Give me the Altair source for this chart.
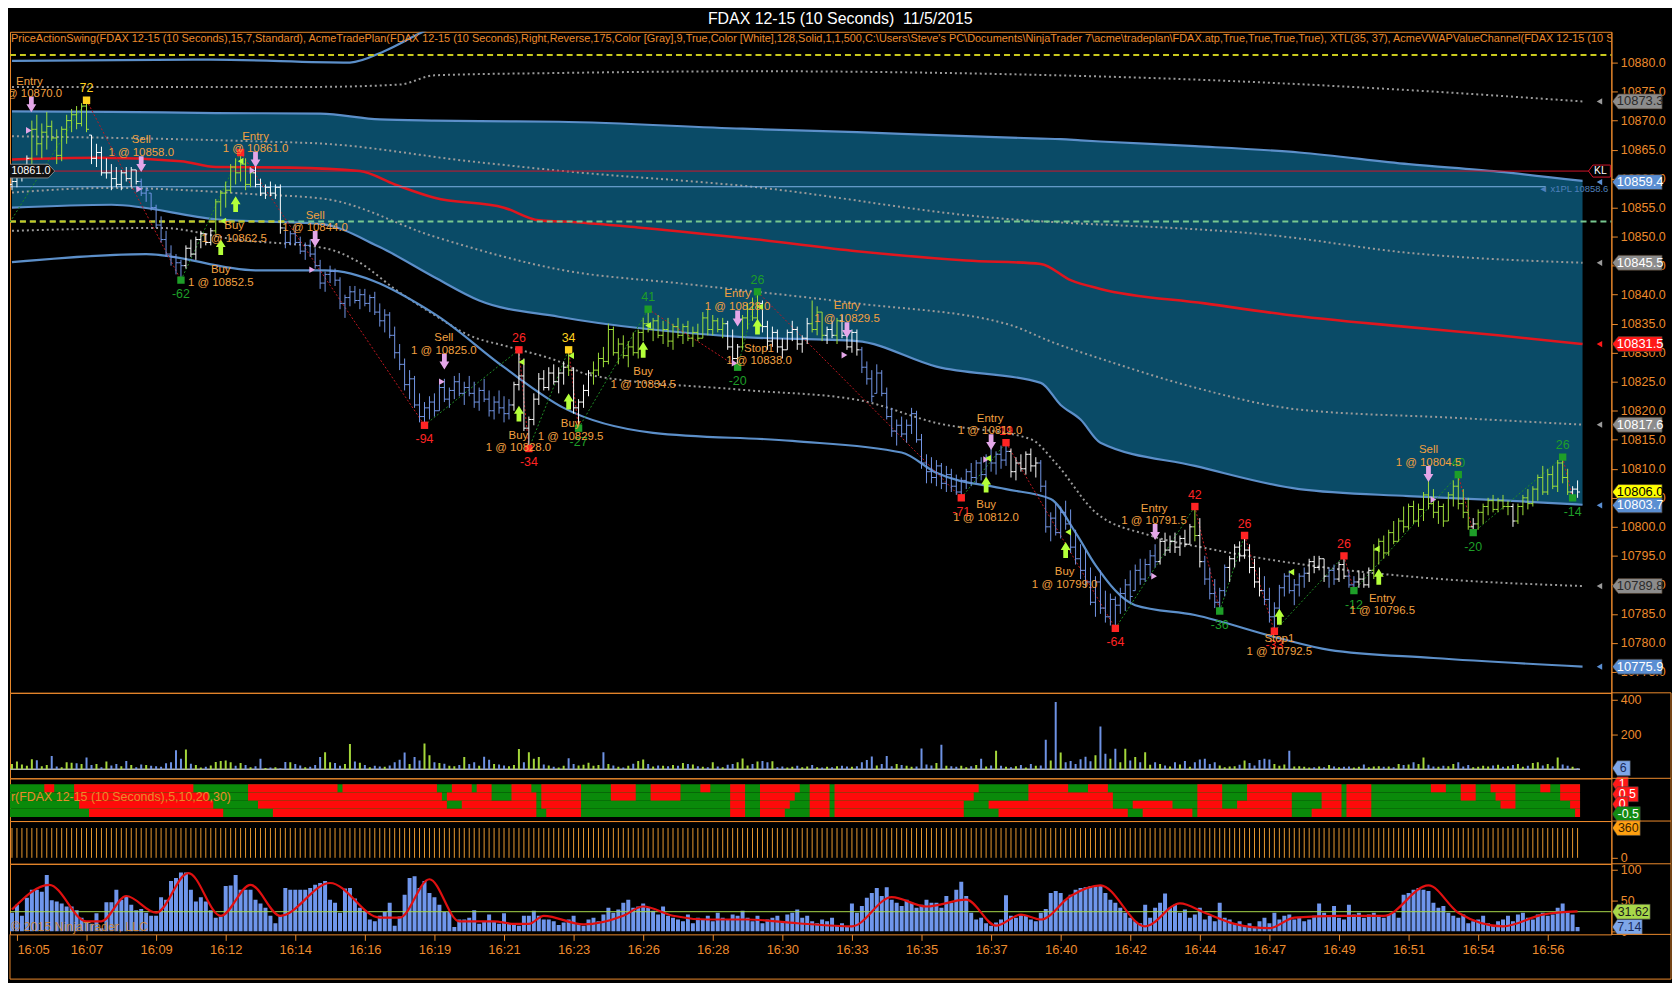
import json
import altair as alt
import pandas as pd

# ---------------------------------------------------------------- data
TITLE = "FDAX 12-15 (10 Seconds)\u00a0 11/5/2015"
INDICATORS = ("PriceActionSwing(FDAX 12-15 (10 Seconds),15,7,Standard), AcmeTradePlan(FDAX 12-15 (10 Seconds),"
              "Right,Reverse,175,Color [Gray],9,True,Color [White],128,Solid,1,1,500,C:\\Users\\Steve's PC\\Documents\\"
              "NinjaTrader 7\\acme\\tradeplan\\FDAX.atp,True,True,True,True), XTL(35, 37), "
              "AcmeVWAPValueChannel(FDAX 12-15 (10 Seconds))")
HEAT_NAME = "r(FDAX 12-15 (10 Seconds),5,10,20,30)"
COPYRIGHT = "\u00a9 2015 NinjaTrader, LLC"

OPEN0 = 10859.0
HIGH = [
    10860.5, 10861.0, 10862.0, 10864.0, 10870.0, 10871.0, 10869.5, 10871.5, 10870.0, 10868.5,
    10869.0, 10871.0, 10872.0, 10872.5, 10873.0, 10873.5, 10867.5, 10866.0, 10865.5, 10863.5,
    10862.5, 10862.0, 10861.5, 10862.0, 10862.0, 10861.5, 10860.0, 10858.5, 10857.5, 10855.5,
    10853.5, 10851.0, 10848.5, 10847.0, 10846.0, 10848.5, 10849.5, 10850.0, 10851.0, 10850.5,
    10851.5, 10856.5, 10858.0, 10859.5, 10862.5, 10863.5, 10864.5, 10863.5, 10862.0, 10862.0,
    10860.0, 10859.0, 10859.5, 10859.0, 10859.0, 10851.5, 10851.0, 10852.0, 10850.0, 10849.0,
    10849.5, 10848.0, 10846.0, 10844.0, 10845.0, 10844.5, 10843.0, 10840.0, 10841.5, 10841.5,
    10841.0, 10841.0, 10840.0, 10840.5, 10838.5, 10837.5, 10837.0, 10834.5, 10831.5, 10829.0,
    10827.0, 10826.0, 10823.0, 10821.5, 10822.5, 10823.0, 10824.5, 10825.5, 10824.0, 10826.0,
    10826.5, 10825.0, 10826.0, 10825.0, 10824.0, 10825.5, 10823.5, 10822.5, 10823.5, 10822.5,
    10822.0, 10825.0, 10830.5, 10829.0, 10819.0, 10823.0, 10826.5, 10827.0, 10827.5, 10828.0,
    10827.5, 10828.5, 10830.5, 10827.5, 10822.0, 10824.5, 10827.0, 10828.5, 10830.0, 10831.0,
    10835.0, 10834.5, 10832.5, 10833.0, 10832.0, 10833.5, 10834.0, 10836.0, 10837.5, 10836.0,
    10836.5, 10835.5, 10836.0, 10835.0, 10836.0, 10835.0, 10835.5, 10834.5, 10835.0, 10837.0,
    10837.5, 10836.5, 10836.0, 10836.0, 10835.5, 10834.0, 10831.5, 10836.5, 10838.5, 10839.5,
    10840.5, 10839.0, 10835.5, 10834.5, 10834.0, 10832.5, 10834.0, 10835.5, 10834.5, 10833.0,
    10836.0, 10839.0, 10838.0, 10837.0, 10834.5, 10835.5, 10836.0, 10836.5, 10834.0, 10834.0,
    10834.0, 10831.0, 10828.5, 10827.0, 10828.0, 10827.0, 10824.0, 10820.5, 10818.5, 10819.0,
    10818.5, 10820.5, 10820.0, 10816.0, 10812.5, 10812.0, 10811.5, 10811.0, 10810.5, 10810.0,
    10809.0, 10808.5, 10810.0, 10811.0, 10811.5, 10812.0, 10812.5, 10813.5, 10813.0, 10814.0,
    10814.5, 10813.5, 10812.0, 10812.5, 10813.0, 10813.5, 10812.0, 10811.5, 10808.0, 10802.5,
    10804.0, 10803.5, 10804.5, 10803.0, 10799.5, 10797.0, 10796.0, 10793.0, 10791.5, 10792.5,
    10789.0, 10788.5, 10788.0, 10789.5, 10791.0, 10792.5, 10793.5, 10794.5, 10794.5, 10796.0,
    10797.0, 10798.0, 10799.0, 10798.5, 10799.0, 10798.5, 10799.5, 10800.5, 10803.5, 10801.5,
    10795.0, 10793.0, 10791.0, 10789.5, 10793.5, 10795.0, 10797.0, 10797.5, 10798.5, 10797.0,
    10794.5, 10793.0, 10791.5, 10789.5, 10787.0, 10790.0, 10792.0, 10792.5, 10791.0, 10792.0,
    10793.0, 10794.5, 10795.0, 10795.0, 10794.5, 10793.0, 10793.5, 10794.0, 10795.0, 10792.5,
    10791.5, 10792.5, 10792.0, 10793.0, 10797.0, 10798.0, 10798.5, 10799.5, 10801.0, 10801.5,
    10803.5, 10804.0, 10804.5, 10804.0, 10806.0, 10808.0, 10806.5, 10804.5, 10804.0, 10806.0,
    10808.0, 10809.0, 10806.5, 10805.0, 10801.5, 10803.0, 10804.0, 10805.0, 10805.5, 10805.0,
    10805.5, 10804.5, 10804.0, 10804.0, 10805.5, 10806.5, 10807.0, 10809.0, 10810.5, 10810.0,
    10810.5, 10811.5, 10812.0, 10810.0, 10807.0, 10808.0]
LOW = [
    10858.0, 10858.5, 10859.5, 10860.5, 10862.0, 10864.0, 10863.5, 10865.0, 10866.5, 10862.5,
    10863.0, 10866.0, 10868.0, 10868.5, 10869.0, 10868.0, 10862.5, 10862.0, 10860.5, 10860.0,
    10858.0, 10858.5, 10858.0, 10859.5, 10858.5, 10859.0, 10857.0, 10856.0, 10854.5, 10851.5,
    10849.0, 10846.5, 10845.0, 10843.5, 10842.5, 10844.5, 10846.5, 10846.0, 10848.0, 10848.5,
    10848.5, 10850.5, 10853.5, 10855.0, 10857.5, 10859.0, 10859.5, 10858.0, 10858.5, 10858.5,
    10857.0, 10856.5, 10857.0, 10856.5, 10850.5, 10848.0, 10848.5, 10848.5, 10847.0, 10846.0,
    10846.5, 10844.5, 10841.0, 10840.5, 10842.0, 10841.5, 10837.5, 10836.0, 10838.0, 10838.5,
    10837.5, 10838.0, 10837.0, 10836.5, 10834.5, 10833.5, 10832.5, 10829.0, 10827.0, 10823.5,
    10822.0, 10820.5, 10818.0, 10817.5, 10818.5, 10819.0, 10820.0, 10821.5, 10820.5, 10822.0,
    10822.5, 10821.0, 10822.5, 10820.5, 10820.0, 10821.5, 10819.0, 10818.5, 10819.5, 10818.0,
    10818.5, 10820.0, 10823.5, 10816.5, 10813.5, 10817.5, 10821.0, 10823.5, 10823.5, 10824.5,
    10823.0, 10824.5, 10826.0, 10819.5, 10817.0, 10820.5, 10822.5, 10824.5, 10826.0, 10827.5,
    10828.0, 10829.5, 10828.0, 10829.0, 10827.5, 10829.5, 10829.0, 10832.0, 10833.5, 10832.0,
    10832.5, 10831.5, 10831.0, 10830.5, 10832.5, 10831.5, 10832.0, 10831.0, 10832.0, 10832.5,
    10833.0, 10833.0, 10833.5, 10832.5, 10830.5, 10828.0, 10827.5, 10830.5, 10834.0, 10835.5,
    10835.5, 10833.5, 10830.5, 10831.0, 10830.0, 10829.0, 10830.5, 10832.0, 10830.5, 10830.0,
    10831.5, 10833.5, 10833.0, 10832.0, 10831.5, 10832.5, 10831.5, 10832.5, 10830.5, 10830.0,
    10829.5, 10826.5, 10824.5, 10821.5, 10823.0, 10822.5, 10818.5, 10815.5, 10814.0, 10815.5,
    10814.5, 10816.0, 10814.5, 10810.0, 10807.5, 10807.5, 10807.0, 10806.5, 10806.0, 10806.0,
    10805.5, 10805.0, 10806.5, 10807.0, 10807.5, 10808.0, 10808.5, 10809.5, 10809.0, 10810.0,
    10810.5, 10808.5, 10808.0, 10809.5, 10809.0, 10809.5, 10808.5, 10806.0, 10799.0, 10797.5,
    10798.5, 10798.0, 10799.5, 10795.5, 10793.5, 10791.0, 10789.5, 10786.5, 10784.5, 10785.0,
    10783.5, 10783.0, 10782.5, 10785.0, 10785.5, 10787.0, 10789.0, 10790.0, 10790.5, 10791.5,
    10793.0, 10793.5, 10795.0, 10795.5, 10795.5, 10795.0, 10796.5, 10797.0, 10797.5, 10793.0,
    10790.0, 10787.5, 10786.0, 10785.5, 10788.0, 10790.5, 10793.0, 10794.0, 10794.5, 10792.0,
    10789.5, 10788.0, 10786.5, 10783.5, 10782.0, 10785.0, 10788.0, 10788.5, 10786.5, 10788.0,
    10789.5, 10790.5, 10792.0, 10792.5, 10790.5, 10789.5, 10790.0, 10790.5, 10791.0, 10789.5,
    10789.0, 10789.5, 10789.5, 10789.5, 10791.0, 10793.5, 10794.5, 10795.0, 10797.0, 10797.5,
    10799.0, 10799.5, 10800.5, 10800.0, 10801.0, 10803.0, 10801.5, 10800.5, 10800.0, 10801.0,
    10803.5, 10803.0, 10801.5, 10799.5, 10799.0, 10799.5, 10800.5, 10802.0, 10802.5, 10802.5,
    10803.0, 10802.0, 10800.0, 10800.5, 10802.0, 10803.0, 10803.5, 10804.5, 10805.5, 10805.5,
    10806.5, 10806.0, 10807.5, 10805.5, 10805.0, 10805.0]
CLOSE = [
    10859.5, 10860.5, 10861.5, 10863.5, 10868.5, 10866.0, 10868.0, 10869.0, 10867.0, 10864.0,
    10868.5, 10870.0, 10871.0, 10869.5, 10872.5, 10868.5, 10863.5, 10864.5, 10861.0, 10861.0,
    10860.0, 10859.0, 10861.0, 10860.0, 10861.5, 10859.5, 10857.5, 10858.0, 10855.0, 10852.0,
    10849.5, 10847.0, 10846.5, 10845.5, 10845.0, 10848.0, 10847.0, 10849.5, 10850.5, 10849.0,
    10851.0, 10856.0, 10857.5, 10858.0, 10862.0, 10861.0, 10862.5, 10859.0, 10861.0, 10859.0,
    10857.5, 10858.5, 10857.5, 10858.5, 10851.5, 10849.0, 10850.5, 10849.0, 10847.5, 10848.5,
    10847.0, 10845.0, 10842.0, 10843.5, 10844.0, 10842.5, 10838.5, 10839.5, 10840.5, 10839.0,
    10840.0, 10838.5, 10839.5, 10837.0, 10835.5, 10836.5, 10833.0, 10830.0, 10828.0, 10824.5,
    10825.5, 10821.0, 10819.0, 10820.5, 10821.5, 10820.0, 10824.0, 10822.0, 10823.5, 10825.0,
    10823.0, 10824.0, 10823.0, 10821.5, 10823.5, 10822.0, 10820.0, 10821.5, 10820.5, 10819.5,
    10821.0, 10824.5, 10826.0, 10817.0, 10818.5, 10822.0, 10825.5, 10824.0, 10826.5, 10825.0,
    10826.5, 10827.5, 10827.0, 10820.5, 10821.5, 10823.5, 10826.5, 10827.0, 10829.0, 10828.5,
    10834.0, 10830.0, 10831.5, 10829.5, 10831.0, 10830.0, 10833.5, 10835.0, 10834.0, 10835.5,
    10833.0, 10834.0, 10832.0, 10834.5, 10833.0, 10834.5, 10832.5, 10833.5, 10832.5, 10836.0,
    10834.0, 10835.5, 10834.0, 10835.0, 10831.0, 10829.0, 10831.0, 10836.0, 10837.5, 10836.0,
    10838.5, 10834.5, 10832.0, 10833.5, 10831.0, 10830.5, 10833.5, 10834.0, 10831.5, 10832.5,
    10835.0, 10834.0, 10837.0, 10833.0, 10834.0, 10833.0, 10835.5, 10833.0, 10831.0, 10833.5,
    10830.5, 10827.5, 10825.5, 10822.5, 10826.5, 10823.0, 10819.0, 10816.5, 10817.5, 10816.0,
    10817.5, 10819.5, 10815.0, 10811.0, 10809.5, 10808.5, 10810.5, 10807.5, 10809.0, 10807.0,
    10806.0, 10808.0, 10809.5, 10808.5, 10811.0, 10809.0, 10812.0, 10811.0, 10812.5, 10811.5,
    10813.0, 10809.5, 10811.0, 10810.0, 10812.5, 10810.5, 10811.0, 10807.0, 10800.0, 10801.5,
    10799.0, 10802.5, 10800.5, 10796.5, 10794.5, 10792.5, 10790.5, 10787.0, 10790.5, 10786.0,
    10784.5, 10787.5, 10786.5, 10788.5, 10790.0, 10788.0, 10792.5, 10791.0, 10793.5, 10795.0,
    10794.0, 10797.5, 10796.0, 10797.5, 10796.5, 10798.0, 10797.0, 10800.0, 10798.5, 10794.0,
    10791.0, 10788.5, 10787.0, 10789.0, 10793.0, 10794.5, 10796.5, 10795.0, 10796.0, 10793.0,
    10790.5, 10789.0, 10787.5, 10784.5, 10786.0, 10789.5, 10791.5, 10789.0, 10790.0, 10791.5,
    10792.0, 10794.0, 10793.0, 10794.5, 10791.5, 10792.5, 10791.0, 10793.5, 10791.5, 10790.0,
    10790.5, 10791.0, 10790.0, 10792.5, 10796.0, 10797.5, 10795.5, 10799.0, 10797.5, 10801.0,
    10800.0, 10803.5, 10801.0, 10803.0, 10805.5, 10804.0, 10802.5, 10803.5, 10801.0, 10805.5,
    10807.0, 10804.0, 10802.5, 10800.0, 10800.5, 10802.5, 10803.5, 10804.5, 10803.0, 10804.5,
    10803.5, 10803.5, 10801.0, 10803.5, 10805.0, 10804.0, 10806.5, 10808.5, 10806.0, 10809.0,
    10807.0, 10811.0, 10808.5, 10806.0, 10806.5, 10806.0]
# bar colour runs: (first bar, last bar, code)  w = white, g = green, b = blue
COLOR_RUNS = [(0, 3, "w"), (4, 15, "g"), (16, 25, "w"), (26, 34, "b"), (35, 40, "w"), (41, 48, "g"),
              (49, 54, "w"), (55, 100, "b"), (101, 111, "w"), (112, 112, "g"), (113, 116, "w"),
              (117, 143, "g"), (144, 146, "w"), (147, 150, "g"), (151, 160, "w"), (161, 163, "g"),
              (164, 165, "w"), (166, 166, "g"), (167, 170, "w"), (171, 200, "b"), (201, 206, "w"),
              (207, 230, "b"), (231, 237, "w"), (238, 238, "g"), (239, 239, "w"), (240, 244, "b"),
              (245, 251, "w"), (252, 260, "b"), (261, 264, "w"), (265, 266, "b"), (267, 268, "w"),
              (269, 270, "b"), (271, 273, "w"), (274, 293, "g"), (294, 294, "w"), (295, 301, "g"),
              (302, 302, "w"), (303, 313, "g"), (314, 315, "w")]

VOLUME = [
    30, 44, 28, 20, 58, 52, 18, 24, 77, 16, 12, 40, 38, 35, 30, 68, 24, 30, 12, 45,
    22, 30, 18, 48, 25, 12, 28, 24, 20, 18, 14, 35, 40, 110, 60, 114, 32, 25, 10, 14,
    22, 42, 48, 50, 40, 20, 36, 24, 12, 18, 60, 8, 10, 12, 6, 42, 40, 30, 22, 12,
    15, 24, 70, 98, 40, 36, 20, 30, 145, 44, 38, 24, 12, 20, 16, 14, 22, 40, 55, 96,
    30, 70, 50, 149, 80, 40, 36, 32, 20, 18, 25, 70, 30, 40, 20, 72, 55, 30, 28, 22,
    18, 24, 116, 40, 98, 60, 70, 28, 22, 14, 10, 20, 64, 30, 22, 26, 38, 20, 24, 98,
    30, 22, 14, 10, 20, 32, 48, 56, 30, 16, 22, 20, 18, 24, 20, 36, 30, 28, 18, 14,
    12, 40, 16, 12, 26, 30, 40, 62, 22, 30, 44, 48, 40, 46, 12, 16, 10, 14, 20, 12,
    16, 24, 12, 10, 14, 12, 18, 20, 16, 14, 18, 40, 54, 73, 22, 30, 77, 18, 30, 24,
    20, 14, 16, 120, 28, 22, 36, 141, 20, 18, 14, 20, 12, 18, 24, 60, 16, 22, 107, 20,
    14, 12, 18, 24, 10, 30, 20, 22, 170, 50, 387, 96, 40, 48, 30, 58, 72, 46, 80, 246,
    90, 60, 118, 40, 118, 50, 70, 40, 98, 26, 40, 30, 22, 16, 40, 28, 48, 14, 40, 56,
    60, 30, 40, 22, 12, 16, 18, 26, 50, 36, 22, 54, 60, 56, 30, 20, 28, 107, 16, 18,
    14, 10, 12, 16, 12, 24, 16, 12, 14, 16, 10, 14, 28, 12, 16, 18, 14, 16, 12, 30,
    24, 28, 40, 30, 67, 26, 16, 14, 20, 18, 30, 40, 16, 24, 12, 14, 20, 16, 22, 26,
    14, 18, 24, 30, 14, 20, 36, 40, 22, 30, 18, 67, 28, 20, 14, 6]

HIST = [
    30, 43, 25, 54, 67, 67, 64, 91, 50, 48, 45, 40, 40, 34, 22, 16, 12, 29, 5, 47,
    47, 67, 51, 57, 43, 34, 36, 30, 25, 25, 55, 51, 81, 86, 95, 95, 67, 48, 55, 48,
    34, 22, 24, 73, 74, 91, 67, 67, 67, 51, 45, 38, 25, 13, 25, 70, 67, 67, 67, 67,
    70, 75, 78, 81, 51, 46, 30, 69, 70, 53, 38, 33, 19, 16, 25, 31, 46, 9, 24, 59,
    86, 89, 70, 81, 62, 55, 43, 31, 31, 7, 19, 19, 22, 34, 12, 16, 27, 16, 12, 29,
    12, 13, 9, 25, 25, 33, 25, 19, 19, 16, 10, 14, 19, 25, 13, 9, 19, 22, 16, 27,
    38, 30, 35, 46, 51, 38, 40, 45, 38, 33, 27, 40, 25, 22, 19, 16, 27, 13, 22, 19,
    25, 16, 30, 22, 19, 27, 25, 33, 22, 16, 25, 13, 19, 22, 25, 16, 27, 30, 35, 22,
    25, 16, 13, 19, 16, 22, 9, 13, 7, 45, 30, 41, 54, 62, 70, 57, 71, 51, 46, 41,
    51, 46, 38, 43, 51, 46, 46, 38, 57, 46, 67, 80, 57, 30, 19, 22, 13, 9, 14, 19,
    58, 25, 22, 27, 25, 19, 16, 30, 36, 62, 65, 62, 51, 59, 67, 70, 71, 73, 73, 73,
    62, 51, 46, 38, 30, 22, 16, 13, 43, 22, 38, 46, 61, 38, 43, 30, 35, 22, 27, 38,
    19, 25, 16, 46, 22, 19, 13, 16, 9, 13, 7, 16, 22, 13, 30, 19, 25, 27, 19, 22,
    16, 19, 25, 45, 30, 25, 41, 22, 19, 43, 27, 30, 22, 27, 30, 25, 22, 27, 30, 22,
    59, 62, 67, 70, 67, 65, 46, 38, 41, 30, 25, 22, 27, 13, 16, 19, 25, 13, 9, 16,
    19, 25, 16, 27, 30, 22, 19, 27, 30, 25, 27, 38, 45, 30, 27, 7]
HAVG_IDX = [0, 7.5, 15, 18, 23, 29, 35.5, 42, 48, 54, 64, 74, 78, 84, 90, 97, 101, 104, 107, 115, 123,
            127, 133, 140, 148, 158, 169, 177, 184, 192, 198, 203, 207, 213, 219, 228, 235, 240, 246,
            253, 258, 267, 276, 285, 291, 300, 308, 315]
HAVG_VAL = [35, 75, 16, 16, 57, 30, 94, 25, 75, 25, 78, 22, 22, 84, 16, 16, 12, 12, 25, 11, 25,
            40, 25, 19, 19, 13, 8, 55, 40, 51, 9, 27, 19, 57, 74, 8, 45, 30, 12,
            5, 22, 25, 25, 74, 30, 8, 27, 32]
HIST_LEVEL = 31.62
TICK_VALUE = 360

# red cells of the four-row trend heat map (first bar, last bar), all other cells green
HEAT_RED = [
    [(7, 8), (13, 36), (48, 65), (67, 85), (89, 92), (94, 96), (101, 104), (107, 114), (121, 125),
     (129, 134), (139, 140), (145, 147), (151, 158), (161, 164), (166, 194), (205, 212), (217, 220),
     (239, 243), (249, 267), (269, 273), (286, 288), (292, 294), (298, 302), (308, 309), (312, 315)],
    [(13, 39), (48, 86), (88, 96), (101, 105), (107, 114), (121, 125), (129, 134), (145, 147),
     (151, 157), (161, 164), (166, 193), (205, 221), (239, 243), (249, 257), (264, 267), (269, 273),
     (292, 294), (299, 302), (312, 315)],
    [(14, 40), (50, 87), (91, 105), (107, 114), (145, 147), (151, 156), (161, 164), (166, 191),
     (197, 221), (226, 233), (239, 243), (247, 257), (264, 267), (269, 273), (300, 302), (314, 315)],
    [(16, 42), (53, 105), (108, 114), (145, 147), (151, 155), (161, 164), (166, 191), (199, 224),
     (228, 237), (239, 257), (262, 267), (269, 273), (315, 315)]]
HEAT_ROW_TOP = [1.0, 0.5875, 0.175, -0.2375]
HEAT_ROW_BOT = [0.5875, 0.175, -0.2375, -0.65]

# value channel bands (bar index, price)
TOP_IDX = [0, 40, 68, 75, 82, 90]
TOP_VAL = [10880.3, 10880.5, 10880.0, 10882.0, 10885.0, 10888.0]
BAND_IDX = [0, 20, 41, 62, 74, 85, 94, 110, 147, 170, 186, 207, 211, 215, 219, 238, 259, 281, 299, 316]
U1_VAL = [10871.6, 10871.5, 10871.3, 10871.2, 10870.2, 10870.0, 10869.9, 10869.8, 10868.6, 10868.0,
          10867.5, 10866.9, 10866.8, 10866.6, 10866.4, 10865.6, 10864.5, 10862.5, 10861.2, 10859.6]
L1_VAL = [10855.0, 10855.5, 10853.0, 10852.2, 10848.2, 10843.0, 10839.0, 10836.2, 10832.7, 10832.0,
          10827.6, 10824.8, 10821.0, 10818.5, 10814.5, 10810.5, 10806.5, 10805.3, 10804.6, 10803.8]
L2_IDX = [0, 27, 49, 63, 85, 99, 111, 129, 157, 179, 186, 200, 209, 214, 218, 226, 238, 255, 265, 286, 316]
L2_VAL = [10845.6, 10847.0, 10844.2, 10844.2, 10836.7, 10827.5, 10820.5, 10816.2, 10814.8, 10812.8,
          10809.3, 10806.5, 10804.8, 10799.0, 10793.4, 10786.5, 10784.8, 10780.8, 10778.8, 10777.4, 10775.9]
DOTA_IDX = [0, 60, 78, 85, 110, 150, 200, 240, 280, 316]
DOTA_VAL = [10875.8, 10875.8, 10876.2, 10877.8, 10878.2, 10878.5, 10878.0, 10877.0, 10875.3, 10873.3]
DOTB_IDX = [0, 50, 63, 92, 111, 150, 192, 256, 280, 316]
DOTB_VAL = [10867.3, 10866.4, 10866.0, 10863.0, 10861.3, 10858.5, 10853.7, 10850.0, 10847.3, 10845.5]
DOTC_IDX = [0, 20, 49, 63, 85, 111, 135, 170, 200, 210, 220, 238, 259, 290, 316]
DOTC_VAL = [10857.6, 10858.4, 10857.3, 10856.5, 10850.0, 10844.2, 10841.9, 10838.5, 10835.0, 10831.6,
            10828.7, 10824.0, 10820.2, 10818.8, 10817.6]
DOTD_IDX = [0, 30, 45, 63, 70, 77, 85, 92, 100, 110, 116, 147, 170, 186, 205, 210, 218, 229, 241, 266, 286, 316]
DOTD_VAL = [10851.0, 10851.5, 10849.5, 10848.0, 10845.5, 10841.0, 10836.5, 10833.0, 10831.0, 10828.5,
            10826.2, 10823.6, 10821.9, 10817.9, 10815.1, 10811.0, 10802.5, 10798.5, 10796.2, 10792.8,
            10791.1, 10789.8]
VWAP_IDX = [0, 17, 34, 41, 56, 70, 77, 85, 99, 106, 111, 127, 150, 170, 192, 207, 213, 219, 240, 256, 280, 299, 316]
VWAP_VAL = [10863.3, 10863.6, 10863.0, 10862.0, 10861.9, 10861.3, 10859.0, 10856.7, 10855.0, 10852.8,
            10852.6, 10851.5, 10849.5, 10847.5, 10845.9, 10845.3, 10842.5, 10841.0, 10838.5, 10836.6,
            10834.5, 10833.0, 10831.5]
KL_PRICE = 10861.3
PL_PRICE = 10858.6
YELLOW_LEVEL = 10881.3
GREEN_LEVEL = 10852.6

# swing points of PriceActionSwing
SW_IDX = [-0.4, 15, 34, 46, 83, 102, 104, 112, 114, 128, 146, 150, 191, 200, 222, 238, 243, 248, 254,
          268, 270, 291, 294, 312, 314]
SW_PRICE = [10852.5, 10873.5, 10842.5, 10864.5, 10817.5, 10830.5, 10813.5, 10830.5, 10817.0, 10837.5,
            10827.5, 10840.5, 10805.0, 10814.5, 10782.5, 10803.5, 10785.5, 10798.5, 10782.0, 10795.0,
            10789.0, 10809.0, 10799.0, 10812.0, 10805.0]
SW_LABEL = ["", "72", "-62", "", "-94", "26", "-34", "34", "-27", "41", "-20", "26", "-71", "19", "-64",
            "42", "-36", "26", "-33", "26", "-12", "40", "-20", "26", "-14"]
SW_KIND = ["none", "yellow", "green", "red", "red", "red", "red", "yellow", "green", "green", "green",
           "green", "red", "red", "red", "red", "green", "red", "red", "red", "green", "green", "green",
           "green", "green"]

# trade plan annotations
ANN_IDX = [3.5, 26, 49, 44.7, 61, 42, 86.9, 101.9, 112.4, 127, 146, 150.3, 168, 196.8, 196, 211.8,
           229.8, 255, 275.7, 285]
ANN_PRICE = [10876.7, 10866.6, 10867.2, 10851.8, 10853.6, 10844.2, 10832.5, 10815.7, 10817.7, 10826.6,
             10840.1, 10830.7, 10838.0, 10818.6, 10803.7, 10792.2, 10803.1, 10780.6, 10787.6, 10813.2]
ANN_WORD = ["Entry", "Sell", "Entry", "Buy", "Sell", "Buy", "Sell", "Buy", "Buy", "Buy", "Entry", "Stop1",
            "Entry", "Entry", "Buy", "Buy", "Entry", "Stop1", "Entry", "Sell"]
ANN_FILL = ["1 @ 10870.0", "1 @ 10858.0", "1 @ 10861.0", "1 @ 10862.5", "1 @ 10844.0", "1 @ 10852.5",
            "1 @ 10825.0", "1 @ 10828.0", "1 @ 10829.5", "1 @ 10834.5", "1 @ 10828.0", "1 @ 10838.0",
            "1 @ 10829.5", "1 @ 10811.0", "1 @ 10812.0", "1 @ 10799.0", "1 @ 10791.5", "1 @ 10792.5",
            "1 @ 10796.5", "1 @ 10804.5"]
DOWN_IDX = [3.9, 26, 49, 61, 87, 146, 168, 197, 230, 285]
DOWN_PRICE = [10872.8, 10862.5, 10863.3, 10849.6, 10828.5, 10835.9, 10833.9, 10814.6, 10799.1, 10809.1]
UP_IDX = [42, 45, 102, 112, 127, 150, 196, 212, 255, 275]
UP_PRICE = [10848.2, 10855.6, 10819.5, 10821.6, 10830.5, 10834.5, 10807.3, 10796.0, 10784.5, 10791.4]
PINK_TRI_IDX = [3.4, 25.6, 48.4, 60.4, 86.5, 145.4, 167.5, 196, 229.8, 286]
PINK_TRI_PRICE = [10868.3, 10858.2, 10861.4, 10844.3, 10825.0, 10828.2, 10829.6, 10811.6, 10791.5, 10804.7]
LIME_TRI_IDX = [46, 42.5, 102.5, 112.5, 128, 150.5, 196.4, 212.5, 257.4, 274.6]
LIME_TRI_PRICE = [10863.0, 10852.7, 10828.4, 10829.5, 10834.7, 10837.9, 10811.8, 10799.1, 10792.2, 10796.2]

# right-axis value tags
TAG_PRICE = [10873.3, 10859.4, 10845.5, 10831.5, 10817.6, 10806.0, 10803.7, 10789.8, 10775.9]
TAG_KIND = ["gray_dark", "blue", "gray", "red", "gray", "yellow", "blue", "gray_dark", "blue"]

PRICE_TICKS = [10775, 10780, 10785, 10790, 10795, 10800, 10805, 10810, 10815, 10820, 10825, 10830,
               10835, 10840, 10845, 10850, 10855, 10860, 10865, 10870, 10875, 10880]
X_POS = [1, 15, 29, 43, 57, 71, 85, 99, 113, 127, 141, 155, 169, 183, 197, 211, 225, 239, 253, 267, 281, 295, 309]
X_LABELS = ["16:05", "16:07", "16:09", "16:12", "16:14", "16:16", "16:19", "16:21", "16:23", "16:26",
            "16:28", "16:30", "16:33", "16:35", "16:37", "16:40", "16:42", "16:44", "16:47", "16:49",
            "16:51", "16:54", "16:56"]

# ---------------------------------------------------------------- style
W = 1611
H_MAIN, H_VOL, H_HEAT, H_TICK, H_HIST = 665, 86, 43, 43, 71
XDOM = [-0.4, 321.8]
ORANGE = "#EC8A2C"
TEXT_OR = "#F2A040"
FONT = "Liberation Sans, Arial, Helvetica, sans-serif"
TEAL = "#0A4B67"
BAND = "#5C8FC9"
DOTTED = "#9A9A9A"
BAR_COL = {"w": "#FFFFFF", "g": "#9FE03A", "b": "#7396E6"}
VOL_UP, VOL_DN = "#A4D63A", "#6E92E4"
HEAT_COL = {"r": "#FF0A0A", "g": "#0A8A0A"}
SW_COL = {"yellow": "#FFD21E", "green": "#1E9E28", "red": "#FF2424", "none": "#000000"}
TAG_STYLE = {"gray_dark": ("#8C8C8C", "#2A2A2A", "#9A9A9A"), "gray": ("#8C8C8C", "#FFFFFF", "#9A9A9A"),
             "blue": ("#5A8ED2", "#FFFFFF", "#5A8ED2"), "red": ("#FF1818", "#FFFFFF", "#FF1818"),
             "yellow": ("#FFFF00", "#000000", "#FFFF00")}
TAG_PATH = "M-1,0 L-0.76,-0.3 L1,-0.3 L1,0.3 L-0.76,0.3 Z"
UP_PATH = "M-0.3,1 L0.3,1 L0.3,0 L0.62,0 L0,-1 L-0.62,0 L-0.3,0 Z"
DOWN_PATH = "M-0.3,-1 L0.3,-1 L0.3,0 L0.62,0 L0,1 L-0.62,0 L-0.3,0 Z"

xs = alt.Scale(domain=XDOM, nice=False, zero=False)
ys_main = alt.Scale(domain=[10771.4, 10885.3], nice=False, zero=False)
ys_vol = alt.Scale(domain=[-52, 440], nice=False, zero=False)
ys_heat = alt.Scale(domain=[-0.85, 1.3], nice=False, zero=False)
ys_tick = alt.Scale(domain=[-72, 444], nice=False, zero=False)
ys_hist = alt.Scale(domain=[-5, 109], nice=False, zero=False)


def right_axis(values, fmt=None):
    kw = dict(orient="right", values=values, title=None, grid=False, labelColor=ORANGE, tickColor=ORANGE,
              domainColor=ORANGE, labelFont=FONT, labelFontSize=12.5, tickSize=6, labelPadding=3)
    if fmt:
        kw["format"] = fmt
    return alt.Axis(**kw)


x_axis = alt.Axis(values=X_POS, labelExpr=f"{json.dumps(X_LABELS)}[indexof({json.dumps(X_POS)}, datum.value)]",
                  title=None, grid=False, domain=False, labelColor=ORANGE, tickColor=ORANGE, tickSize=6,
                  labelFont=FONT, labelFontSize=13, labelPadding=3, labelFlush=20)


def x_enc(axis):
    return lambda f: alt.X(f, type="quantitative", scale=xs, axis=axis)


def y_enc(sc, axis):
    return lambda f: alt.Y(f, type="quantitative", scale=sc, axis=axis)


X = x_enc(None)
XH = x_enc(x_axis)
YM = y_enc(ys_main, right_axis(PRICE_TICKS, ".1f"))
YV = y_enc(ys_vol, right_axis([200, 400]))
YHT = y_enc(ys_heat, None)
YT = y_enc(ys_tick, right_axis([0]))
YH = y_enc(ys_hist, right_axis([0, 50, 100]))

ONE = pd.DataFrame({"a": [0]})


def small_tag(value, label, Y, bg, fg, w):
    h = 7.5 / (w / 2.0)
    p = 5.0 / (w / 2.0)
    path = f"M-1,0 L{-1 + p:.3f},{-h:.3f} L1,{-h:.3f} L1,{h:.3f} L{-1 + p:.3f},{h:.3f} Z"
    df = pd.DataFrame({"v": [value], "label": [label]})
    pt = alt.Chart(df).mark_point(shape=path, size=w * w, filled=True, opacity=1, color=bg,
                                  stroke="#404040", strokeWidth=0.6).encode(
        x=alt.value(W + 1 + w / 2.0), y=Y("v"))
    tx = alt.Chart(df).mark_text(font=FONT, fontSize=12.5, color=fg).encode(
        x=alt.value(W + 3 + w / 2.0), y=Y("v"), text="label:N")
    return [pt, tx]


def frame_rules(h, top=True, bottom=False, extra=0):
    out = []
    if top:
        out.append(alt.Chart(ONE).mark_rule(color=ORANGE).encode(
            x=alt.value(W), x2=alt.value(W + 60), y=alt.value(0)))
    if bottom:
        out.append(alt.Chart(ONE).mark_rule(color=ORANGE).encode(
            x=alt.value(W), x2=alt.value(W + 60), y=alt.value(h)))
    out.append(alt.Chart(ONE).mark_rule(color=ORANGE).encode(
        x=alt.value(W + 60), y=alt.value(0), y2=alt.value(h + extra)))
    return out


# ---------------------------------------------------------------- tables
n = min(len(HIGH), len(LOW), len(CLOSE), len(VOLUME), len(HIST))
code = ["w"] * n
for s, e, c in COLOR_RUNS:
    for i in range(s, min(e, n - 1) + 1):
        code[i] = c
rows = []
prev = OPEN0
for i in range(n):
    o = min(max(prev, LOW[i]), HIGH[i])
    rows.append({"i": i, "hi": HIGH[i], "lo": LOW[i], "op": o, "cl": CLOSE[i], "col": BAR_COL[code[i]],
                 "vol": VOLUME[i], "vcol": VOL_UP if CLOSE[i] >= o else VOL_DN, "hist": HIST[i],
                 "tv": TICK_VALUE, "z": 0})
    prev = CLOSE[i]
bars = pd.DataFrame(rows)

band_df = pd.DataFrame({"idx": BAND_IDX, "u1": U1_VAL, "l1": L1_VAL})
lines_df = pd.concat([
    pd.DataFrame({"idx": TOP_IDX, "val": TOP_VAL, "name": "top"}),
    pd.DataFrame({"idx": BAND_IDX, "val": U1_VAL, "name": "u1"}),
    pd.DataFrame({"idx": BAND_IDX, "val": L1_VAL, "name": "l1"}),
    pd.DataFrame({"idx": L2_IDX, "val": L2_VAL, "name": "l2"})])
dots_df = pd.concat([
    pd.DataFrame({"idx": DOTA_IDX, "val": DOTA_VAL, "name": "a"}),
    pd.DataFrame({"idx": DOTB_IDX, "val": DOTB_VAL, "name": "b"}),
    pd.DataFrame({"idx": DOTC_IDX, "val": DOTC_VAL, "name": "c"}),
    pd.DataFrame({"idx": DOTD_IDX, "val": DOTD_VAL, "name": "d"})])
vwap_df = pd.DataFrame({"idx": VWAP_IDX, "val": VWAP_VAL})

seg_rows = []
for k in range(len(SW_IDX) - 1):
    down = SW_PRICE[k + 1] < SW_PRICE[k]
    seg_rows.append({"x": SW_IDX[k], "y": SW_PRICE[k], "x2": SW_IDX[k + 1], "y2": SW_PRICE[k + 1],
                     "col": "#C01820" if down else "#1F8A24"})
seg_df = pd.DataFrame(seg_rows)
sw_df = pd.DataFrame({"idx": SW_IDX, "price": SW_PRICE, "label": SW_LABEL, "kind": SW_KIND})
sw_df["col"] = sw_df["kind"].map(SW_COL)
sw_df["side"] = ["hi" if (j > 0 and SW_PRICE[j] > SW_PRICE[j - 1]) else "lo" for j in range(len(SW_IDX))]
sw_df = sw_df[sw_df["kind"] != "none"]
sw_hi = sw_df[sw_df["side"] == "hi"]
sw_lo = sw_df[sw_df["side"] == "lo"]

ann_df = pd.DataFrame({"idx": ANN_IDX, "price": ANN_PRICE,
                       "txt": [a + "\n" + b for a, b in zip(ANN_WORD, ANN_FILL)]})
down_df = pd.DataFrame({"idx": DOWN_IDX, "price": DOWN_PRICE})
up_df = pd.DataFrame({"idx": UP_IDX, "price": UP_PRICE})
ptri_df = pd.DataFrame({"idx": PINK_TRI_IDX, "price": PINK_TRI_PRICE})
ltri_df = pd.DataFrame({"idx": LIME_TRI_IDX, "price": LIME_TRI_PRICE})

tag_df = pd.DataFrame({"price": TAG_PRICE, "label": [f"{p:.1f}" for p in TAG_PRICE],
                       "bg": [TAG_STYLE[k][0] for k in TAG_KIND], "fg": [TAG_STYLE[k][1] for k in TAG_KIND],
                       "ar": [TAG_STYLE[k][2] for k in TAG_KIND]})
tag_arrow_df = tag_df[tag_df["label"] != "10806.0"]

# ---------------------------------------------------------------- main panel
L = []
L.append(alt.Chart(band_df).mark_area(color=TEAL, interpolate="monotone", clip=True).encode(
    x=X("idx"), y=YM("u1"), y2="l1"))
L.append(alt.Chart(dots_df).mark_line(color=DOTTED, strokeWidth=2, strokeDash=[2, 3], interpolate="monotone",
                                      clip=True).encode(x=X("idx"), y=YM("val"), detail="name:N"))
L.append(alt.Chart(lines_df).mark_line(color=BAND, strokeWidth=2.2, interpolate="monotone", clip=True).encode(
    x=X("idx"), y=YM("val"), detail="name:N"))
L.append(alt.Chart(vwap_df).mark_line(color="#E0161E", strokeWidth=2.6, interpolate="monotone", clip=True).encode(
    x=X("idx"), y=YM("val")))
# horizontal levels
L.append(alt.Chart(pd.DataFrame({"price": [GREEN_LEVEL]})).mark_rule(
    color="#78C890", strokeWidth=2, strokeDash=[6, 4]).encode(x=alt.value(0), x2=alt.value(W), y=YM("price")))
L.append(alt.Chart(pd.DataFrame({"price": [GREEN_LEVEL], "x0": [-0.4], "x1": [55]})).mark_rule(
    color="#C8C81E", strokeWidth=2, strokeDash=[6, 4], clip=True).encode(x=X("x0"), x2="x1", y=YM("price")))
L.append(alt.Chart(pd.DataFrame({"price": [YELLOW_LEVEL]})).mark_rule(
    color="#C8C81E", strokeWidth=2, strokeDash=[6, 4]).encode(x=alt.value(0), x2=alt.value(W), y=YM("price")))
L.append(alt.Chart(pd.DataFrame({"price": [KL_PRICE]})).mark_rule(color="#D0142A", strokeWidth=1).encode(
    x=alt.value(40), x2=alt.value(W - 22), y=YM("price")))
L.append(alt.Chart(pd.DataFrame({"price": [PL_PRICE]})).mark_rule(color="#7FB2E6", strokeWidth=1).encode(
    x=alt.value(0), x2=alt.value(W - 66), y=YM("price")))
# zig-zag
L.append(alt.Chart(seg_df).mark_rule(strokeWidth=1, strokeDash=[2, 2], clip=True).encode(
    x=X("x"), y=YM("y"), x2="x2", y2="y2", color=alt.Color("col:N", scale=None)))
# price bars
L.append(alt.Chart(bars).mark_rule(strokeWidth=1, clip=True).encode(
    x=X("i"), y=YM("lo"), y2="hi", color=alt.Color("col:N", scale=None)))
L.append(alt.Chart(bars).transform_calculate(xo="datum.i - 0.5").mark_rule(strokeWidth=1, clip=True).encode(
    x=X("xo"), x2="i", y=YM("op"), color=alt.Color("col:N", scale=None)))
L.append(alt.Chart(bars).transform_calculate(xc="datum.i + 0.5").mark_rule(strokeWidth=1, clip=True).encode(
    x=X("i"), x2="xc", y=YM("cl"), color=alt.Color("col:N", scale=None)))
# swing dots and labels
L.append(alt.Chart(sw_df).mark_point(shape="square", size=55, filled=True, opacity=1, clip=True).encode(
    x=X("idx"), y=YM("price"), color=alt.Color("col:N", scale=None)))
L.append(alt.Chart(sw_hi).mark_text(font=FONT, fontSize=12.5, dy=-12, clip=True).encode(
    x=X("idx"), y=YM("price"), text="label:N", color=alt.Color("col:N", scale=None)))
L.append(alt.Chart(sw_lo).mark_text(font=FONT, fontSize=12.5, dy=14, clip=True).encode(
    x=X("idx"), y=YM("price"), text="label:N", color=alt.Color("col:N", scale=None)))
# trade arrows and markers
L.append(alt.Chart(down_df).mark_point(shape=DOWN_PATH, size=256, filled=True, opacity=1, color="#E4A6E8",
                                       clip=True).encode(x=X("idx"), y=YM("price")))
L.append(alt.Chart(up_df).mark_point(shape=UP_PATH, size=256, filled=True, opacity=1, color="#B4FF3A",
                                     clip=True).encode(x=X("idx"), y=YM("price")))
L.append(alt.Chart(ptri_df).mark_point(shape="triangle-right", size=45, filled=True, opacity=1, color="#E4A6E8",
                                       clip=True).encode(x=X("idx"), y=YM("price")))
L.append(alt.Chart(ltri_df).mark_point(shape="triangle-left", size=45, filled=True, opacity=1, color="#B4FF3A",
                                       clip=True).encode(x=X("idx"), y=YM("price")))
L.append(alt.Chart(ann_df).mark_text(font=FONT, fontSize=11.5, color=TEXT_OR, lineBreak="\n", lineHeight=12.5,
                                     clip=True).encode(x=X("idx"), y=YM("price"), text="txt:N"))
# labels on the lines
L.append(alt.Chart(pd.DataFrame({"price": [KL_PRICE]})).mark_point(
    shape="M-1,-0.3 L0.72,-0.3 L1,0 L0.72,0.3 L-1,0.3 Z", size=2116, filled=True, opacity=1, color="#111111",
    stroke="#9A9A9A", strokeWidth=0.8, clip=True).encode(x=alt.value(22), y=YM("price")))
L.append(alt.Chart(pd.DataFrame({"price": [KL_PRICE], "t": ["10861.0"]})).mark_text(
    font=FONT, fontSize=11, color="#FFFFFF").encode(x=alt.value(21), y=YM("price"), text="t:N"))
L.append(alt.Chart(pd.DataFrame({"price": [KL_PRICE]})).mark_point(
    shape="M-1,0 L-0.6,-0.55 L1,-0.55 L1,0.55 L-0.6,0.55 Z", size=484, filled=True, opacity=1, color="#000000",
    stroke="#D0142A", strokeWidth=1).encode(x=alt.value(W - 12), y=YM("price")))
L.append(alt.Chart(pd.DataFrame({"price": [KL_PRICE], "t": ["KL"]})).mark_text(
    font=FONT, fontSize=10.5, color="#FFFFFF").encode(x=alt.value(W - 11), y=YM("price"), text="t:N"))
L.append(alt.Chart(pd.DataFrame({"price": [PL_PRICE], "t": ["\u25c4 x1PL 10858.6"]})).mark_text(
    font=FONT, fontSize=9.5, color="#4F80BC", align="right", dy=2).encode(
    x=alt.value(W - 3), y=YM("price"), text="t:N"))
# right value tags
L.append(alt.Chart(tag_arrow_df).mark_point(shape="triangle-left", size=40, filled=True, opacity=1).encode(
    x=alt.value(W - 12), y=YM("price"), color=alt.Color("ar:N", scale=None)))
L.append(alt.Chart(tag_df).mark_point(shape=TAG_PATH, size=2500, filled=True, opacity=1, stroke="#4A3A2A",
                                      strokeWidth=0.7).encode(
    x=alt.value(W + 26), y=YM("price"), fill=alt.Fill("bg:N", scale=None)))
L.append(alt.Chart(tag_df).mark_text(font=FONT, fontSize=13).encode(
    x=alt.value(W + 29), y=YM("price"), text="label:N", color=alt.Color("fg:N", scale=None)))
L.append(alt.Chart(pd.DataFrame({"t": [INDICATORS]})).mark_text(
    font=FONT, fontSize=11, color=ORANGE, align="left", baseline="middle", clip=True).encode(
    x=alt.value(1), y=alt.value(7), text="t:N"))
main = alt.layer(*L).properties(width=W, height=H_MAIN)

# ---------------------------------------------------------------- volume panel
V = []
V.append(alt.Chart(pd.DataFrame({"x0": [-0.4], "x1": [n - 0.5], "y": [0]})).mark_rule(
    color="#B4B4B4", strokeWidth=1.5, clip=True).encode(x=X("x0"), x2="x1", y=YV("y")))
V.append(alt.Chart(bars).mark_rule(strokeWidth=2, clip=True).encode(
    x=X("i"), y=YV("vol"), y2="z", color=alt.Color("vcol:N", scale=None)))
V += small_tag(VOLUME[n - 1], str(VOLUME[n - 1]), YV, "#7EA6E8", "#1A2A5A", 18)
V += frame_rules(H_VOL, top=True)
vol = alt.layer(*V).properties(width=W, height=H_VOL)

# ---------------------------------------------------------------- heat panel
hrows = []
for r in range(4):
    hrows.append({"x0": -0.5, "x1": n - 0.5, "y0": HEAT_ROW_TOP[r], "y1": HEAT_ROW_BOT[r], "c": HEAT_COL["g"]})
    for s, e in HEAT_RED[r]:
        hrows.append({"x0": s - 0.5, "x1": min(e, n - 1) + 0.5, "y0": HEAT_ROW_TOP[r], "y1": HEAT_ROW_BOT[r],
                      "c": HEAT_COL["r"]})
heat_df = pd.DataFrame(hrows)
HT = []
HT.append(alt.Chart(heat_df).mark_rect(clip=True).encode(
    x=X("x0"), x2="x1", y=YHT("y0"), y2="y1", color=alt.Color("c:N", scale=None)))
HT.append(alt.Chart(pd.DataFrame({"t": [HEAT_NAME]})).mark_text(
    font=FONT, fontSize=12.5, color=ORANGE, align="left", baseline="middle").encode(
    x=alt.value(1), y=alt.value(19), text="t:N"))
HT += small_tag(1, "1", YHT, "#FF1818", "#FFFFFF", 16)
HT += small_tag(0.5, "0.5", YHT, "#FF1818", "#FFFFFF", 26)
HT += small_tag(0, "0", YHT, "#FF1818", "#FFFFFF", 16)
HT += small_tag(-0.5, "-0.5", YHT, "#128A12", "#FFFFFF", 28)
HT += frame_rules(H_HEAT, top=True)
heat = alt.layer(*HT).properties(width=W, height=H_HEAT)

# ---------------------------------------------------------------- tick panel
TK = []
TK.append(alt.Chart(bars).mark_rule(color="#E8982E", strokeWidth=1, clip=True).encode(
    x=X("i"), y=YT("tv"), y2="z"))
TK += small_tag(TICK_VALUE, str(TICK_VALUE), YT, "#FFA010", "#3A2200", 28)
TK += frame_rules(H_TICK, top=True)
tick = alt.layer(*TK).properties(width=W, height=H_TICK)

# ---------------------------------------------------------------- oscillator panel
HS = []
HS.append(alt.Chart(bars).mark_rule(color="#6F96EC", strokeWidth=4, clip=True).encode(
    x=XH("i"), y=YH("hist"), y2="z"))
HS.append(alt.Chart(pd.DataFrame({"v": [HIST_LEVEL]})).mark_rule(color="#A8D84A", strokeWidth=1).encode(
    x=alt.value(0), x2=alt.value(W), y=YH("v")))
HS.append(alt.Chart(pd.DataFrame({"idx": HAVG_IDX, "v": HAVG_VAL})).mark_line(
    color="#E01010", strokeWidth=2.2, interpolate="monotone", clip=True).encode(x=XH("idx"), y=YH("v")))
HS.append(alt.Chart(pd.DataFrame({"t": [COPYRIGHT]})).mark_text(
    font=FONT, fontSize=12.5, color="#D88A30", opacity=0.85, align="left", baseline="middle").encode(
    x=alt.value(1), y=alt.value(64), text="t:N"))
HS += small_tag(HIST_LEVEL, f"{HIST_LEVEL:.2f}", YH, "#A8D84A", "#1A1A1A", 38)
HS += small_tag(HIST[n - 1], "7.14", YH, "#7EA6E8", "#1A2A5A", 30)
HS += frame_rules(H_HIST, top=True, bottom=True, extra=45)
HS.append(alt.Chart(ONE).mark_rule(color=ORANGE).encode(x=alt.value(0), y=alt.value(H_HIST), y2=alt.value(H_HIST + 45)))
HS.append(alt.Chart(ONE).mark_rule(color=ORANGE).encode(x=alt.value(0), x2=alt.value(W + 60), y=alt.value(H_HIST + 45)))
hist = alt.layer(*HS).properties(width=W, height=H_HIST)

chart = alt.vconcat(main, vol, heat, tick, hist, spacing=0, bounds="flush").properties(
    title=alt.TitleParams(TITLE, color="#FFFFFF", fontSize=16, font=FONT, fontWeight="normal", anchor="middle",
                          offset=4),
    background="#000000", padding=0,
).configure_view(stroke=ORANGE, strokeWidth=1)

chart.save("out.html", embed_options={"renderer": "svg", "actions": False})
